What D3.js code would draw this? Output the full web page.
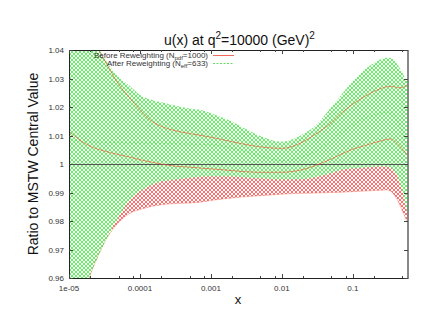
<!DOCTYPE html>
<meta charset="utf-8">
<style>
body { margin: 0; background: #fff; }
text { font-family: "Liberation Sans", Arial, sans-serif; }
.tick-label { font-size: 8px; fill: #333; }
</style>
<body>
<div id="chart"></div>
<script src="https://d3js.org/d3.v7.min.js"></script>
<script>
// x samples (log spaced) and the curves
var xs = [1e-5, 1.5e-5, 2e-5, 3e-5, 5e-5, 7e-5, 1e-4, 1.5e-4, 2e-4, 3e-4, 5e-4, 7e-4,
          1e-3, 2e-3, 3e-3, 5e-3, 1e-2, 2e-2, 3e-2, 5e-2, 0.07, 0.1, 0.15, 0.2,
          0.25, 0.3, 0.35, 0.4, 0.45, 0.5, 0.55, 0.6];

// before reweighting (red)
var redHi  = [1.062, 1.052, 1.045, 1.0375, 1.028, 1.0235, 1.019, 1.0148, 1.0132, 1.0118, 1.0107, 1.0101,
              1.0094, 1.0078, 1.0069, 1.006, 1.0055, 1.0078, 1.0105, 1.0145, 1.018, 1.021, 1.0238, 1.0255,
              1.0265, 1.0271, 1.0272, 1.027, 1.0267, 1.0268, 1.0274, 1.028];
var redMid = [1.0115, 1.008, 1.0062, 1.0047, 1.0033, 1.0025, 1.0015, 1.0006, 1.0, 0.9993, 0.9989, 0.9986,
              0.9983, 0.9977, 0.9973, 0.9971, 0.9971, 0.9981, 0.9995, 1.0018, 1.0035, 1.0052, 1.0065, 1.0075,
              1.0081, 1.0086, 1.0088, 1.0078, 1.0065, 1.0053, 1.0041, 1.003];
var redLo  = [0.935, 0.9525, 0.9612, 0.9715, 0.9795, 0.9825, 0.984, 0.9852, 0.9857, 0.9861, 0.9863, 0.9866,
              0.9872, 0.9881, 0.9885, 0.9889, 0.9894, 0.9897, 0.9898, 0.99, 0.9901, 0.9903, 0.9905, 0.9907,
              0.9908, 0.9909, 0.9903, 0.9885, 0.9862, 0.9835, 0.9812, 0.979];

// after reweighting (green)
var greenHi  = [1.055, 1.05, 1.046, 1.038, 1.0305, 1.0276, 1.0242, 1.0225, 1.0217, 1.0206, 1.0195, 1.019,
                1.0178, 1.0148, 1.0125, 1.0098, 1.0078, 1.0105, 1.0135, 1.02, 1.0245, 1.029, 1.0333, 1.0355,
                1.0368, 1.0373, 1.0372, 1.0358, 1.034, 1.032, 1.030, 1.0288];
var greenMid = [1.0085, 1.008, 1.0078, 1.0076, 1.0075, 1.0074, 1.0074, 1.0073, 1.0072, 1.0071, 1.007, 1.0069,
                1.0068, 1.0055, 1.0045, 1.0028, 1.0012, 1.0026, 1.0045, 1.0084, 1.0112, 1.0137, 1.016, 1.0172,
                1.0179, 1.0182, 1.0178, 1.0164, 1.014, 1.0112, 1.008, 1.0046];
var greenLo  = [0.935, 0.9525, 0.9612, 0.971, 0.9815, 0.9868, 0.9904, 0.9928, 0.9939, 0.9945, 0.9952, 0.9955,
                0.9957, 0.9956, 0.9953, 0.995, 0.9946, 0.9947, 0.9954, 0.9968, 0.998, 0.9984, 0.9988, 0.999,
                0.9991, 0.9991, 0.9985, 0.997, 0.994, 0.9905, 0.986, 0.9805];

var yTicks = [0.96, 0.97, 0.98, 0.99, 1, 1.01, 1.02, 1.03, 1.04];
var yTickLabels = ["0.96", "0.97", "0.98", "0.99", "1", "1.01", "1.02", "1.03", "1.04"];
var xTicks = [1e-5, 1e-4, 1e-3, 1e-2, 1e-1];
var xTickLabels = ["1e-05", "0.0001", "0.001", "0.01", "0.1"];
var xMinorMult = [2, 5, 8];

var W = 434, H = 335;
var pL = 69, pR = 408, pT = 50, pB = 278;

var svg = d3.select("#chart").append("svg")
  .attr("width", W).attr("height", H);

var x = d3.scaleLog().domain([1e-5, 0.6]).range([pL, pR]);
var y = d3.scaleLinear().domain([0.96, 1.04]).range([pB, pT]);

var defs = svg.append("defs");
defs.append("clipPath").attr("id", "plotClip")
  .append("rect").attr("x", pL).attr("y", pT)
  .attr("width", pR - pL).attr("height", pB - pT);

// pixel crosshatch, 4x4 cell, like gnuplot's pattern fill
var hatchPixels = [[0, 0], [1, 1], [2, 2], [3, 3], [3, 0], [2, 1], [1, 2], [0, 3]];
function hatch(id, color, bg) {
  var p = defs.append("pattern").attr("id", id)
    .attr("patternUnits", "userSpaceOnUse")
    .attr("width", 4).attr("height", 4);
  if (bg) p.append("rect").attr("width", 4).attr("height", 4).attr("fill", bg);
  p.selectAll("rect.px").data(hatchPixels).enter().append("rect")
    .attr("class", "px")
    .attr("x", function(d) { return d[0]; }).attr("y", function(d) { return d[1]; })
    .attr("width", 1).attr("height", 1)
    .attr("fill", color).attr("shape-rendering", "crispEdges");
}
hatch("hatchRed", "#ff7070", null);
hatch("hatchGreen", "#66f066", "#fff");

var pts = xs.map(function(d, i) { return i; });

var area = function(lo, hi) {
  return d3.area()
    .x(function(i) { return x(xs[i]); })
    .y0(function(i) { return y(lo[i]); })
    .y1(function(i) { return y(hi[i]); })
    .curve(d3.curveMonotoneX);
};
var line = function(arr) {
  return d3.line()
    .x(function(i) { return x(xs[i]); })
    .y(function(i) { return y(arr[i]); })
    .curve(d3.curveMonotoneX);
};

var plot = svg.append("g").attr("clip-path", "url(#plotClip)");

plot.append("path").datum(pts).attr("d", area(redLo, redHi))
  .attr("fill", "url(#hatchRed)");
plot.append("path").datum(pts).attr("d", area(greenLo, greenHi))
  .attr("fill", "url(#hatchGreen)");

// line at 1
plot.append("line").attr("x1", pL).attr("x2", pR)
  .attr("y1", Math.round(y(1)) + 0.5).attr("y2", Math.round(y(1)) + 0.5)
  .attr("stroke", "#555").attr("stroke-width", 1);

plot.append("path").datum(pts).attr("d", line(greenMid))
  .attr("fill", "none").attr("stroke", "#33cc33").attr("stroke-width", 0.8)
  .attr("stroke-dasharray", "3,2").attr("opacity", 0.4);

[redHi, redMid].forEach(function(arr) {
  plot.append("path").datum(pts).attr("d", line(arr))
    .attr("fill", "none").attr("stroke", "#ee4a30").attr("stroke-width", 0.8)
    .attr("opacity", 0.8);
});
plot.append("path").datum(pts).attr("d", line(redLo))
  .attr("fill", "none").attr("stroke", "#ee5a40").attr("stroke-width", 0.8)
  .attr("opacity", 0.4);

// frame
var frame = svg.append("g");
frame.append("line").attr("x1", pL).attr("x2", pR).attr("y1", pT + 0.5).attr("y2", pT + 0.5)
  .attr("stroke", "#222").attr("stroke-width", 1);
frame.append("line").attr("x1", pL).attr("x2", pR + 1).attr("y1", pB + 0.5).attr("y2", pB + 0.5)
  .attr("stroke", "#222").attr("stroke-width", 1);
frame.append("line").attr("x1", pL + 0.5).attr("x2", pL + 0.5).attr("y1", pT).attr("y2", pB)
  .attr("stroke", "#222").attr("stroke-width", 1);
frame.append("line").attr("x1", pR).attr("x2", pR).attr("y1", pT).attr("y2", pB + 1)
  .attr("stroke", "#888").attr("stroke-width", 2);

// y ticks, left and right
yTicks.forEach(function(v, i) {
  var yy = Math.round(y(v)) + 0.5;
  frame.append("line").attr("x1", pL).attr("x2", pL + 4).attr("y1", yy).attr("y2", yy)
    .attr("stroke", "#444");
  frame.append("line").attr("x1", pR - 4).attr("x2", pR).attr("y1", yy).attr("y2", yy)
    .attr("stroke", "#444");
  frame.append("text").attr("class", "tick-label")
    .attr("x", pL - 5).attr("y", y(v) + 3)
    .attr("text-anchor", "end").text(yTickLabels[i]);
});

// x ticks, bottom and top
xTicks.forEach(function(v, i) {
  var xx = Math.round(x(v)) + 0.5;
  frame.append("line").attr("x1", xx).attr("x2", xx).attr("y1", pB).attr("y2", pB - 4)
    .attr("stroke", "#444");
  frame.append("line").attr("x1", xx).attr("x2", xx).attr("y1", pT).attr("y2", pT + 4)
    .attr("stroke", "#444");
  frame.append("text").attr("class", "tick-label")
    .attr("x", x(v)).attr("y", 291)
    .attr("text-anchor", "middle").text(xTickLabels[i]);
  xMinorMult.forEach(function(m) {
    var mv = v * m;
    if (mv > 0.6) return;
    var mx = Math.round(x(mv)) + 0.5;
    frame.append("line").attr("x1", mx).attr("x2", mx).attr("y1", pB).attr("y2", pB - 2)
      .attr("stroke", "#444");
    frame.append("line").attr("x1", mx).attr("x2", mx).attr("y1", pT).attr("y2", pT + 2)
      .attr("stroke", "#444");
  });
});

// title
var title = svg.append("text").attr("x", 239.5).attr("y", 45)
  .attr("text-anchor", "middle").style("font-size", "14px").attr("fill", "#111");
title.append("tspan").text("u(x) at q");
title.append("tspan").attr("dy", -6).style("font-size", "10px").text("2");
title.append("tspan").attr("dy", 6).text("=10000 (GeV)");
title.append("tspan").attr("dy", -6).style("font-size", "10px").text("2");

// axis labels
svg.append("text").attr("x", 238).attr("y", 304)
  .attr("text-anchor", "middle").style("font-size", "13px").attr("fill", "#111").text("x");
svg.append("text").attr("transform", "translate(38,164) rotate(-90)")
  .attr("text-anchor", "middle").style("font-size", "14px").attr("fill", "#111")
  .text("Ratio to MSTW Central Value");

// legend
var legend = svg.append("g");
var legendRows = [
  { pre: "Before Reweighting (N", sub: "pdf", post: "=1000)", y: 58, color: "#f06a60", dash: null },
  { pre: "After Reweighting (N", sub: "eff", post: "=633)", y: 66, color: "#5ee05e", dash: "2,1.5" }
];
legendRows.forEach(function(r) {
  var t = legend.append("text").attr("x", 208).attr("y", r.y)
    .attr("text-anchor", "end").style("font-size", "8px").attr("fill", "#333");
  t.append("tspan").text(r.pre);
  t.append("tspan").attr("dy", 2).style("font-size", "6px").text(r.sub);
  t.append("tspan").attr("dy", -2).text(r.post);
  legend.append("line").attr("x1", 213).attr("x2", 234)
    .attr("y1", r.y - 2.5).attr("y2", r.y - 2.5)
    .attr("stroke", r.color).attr("stroke-width", 1)
    .attr("stroke-dasharray", r.dash);
});
</script>
</body>
